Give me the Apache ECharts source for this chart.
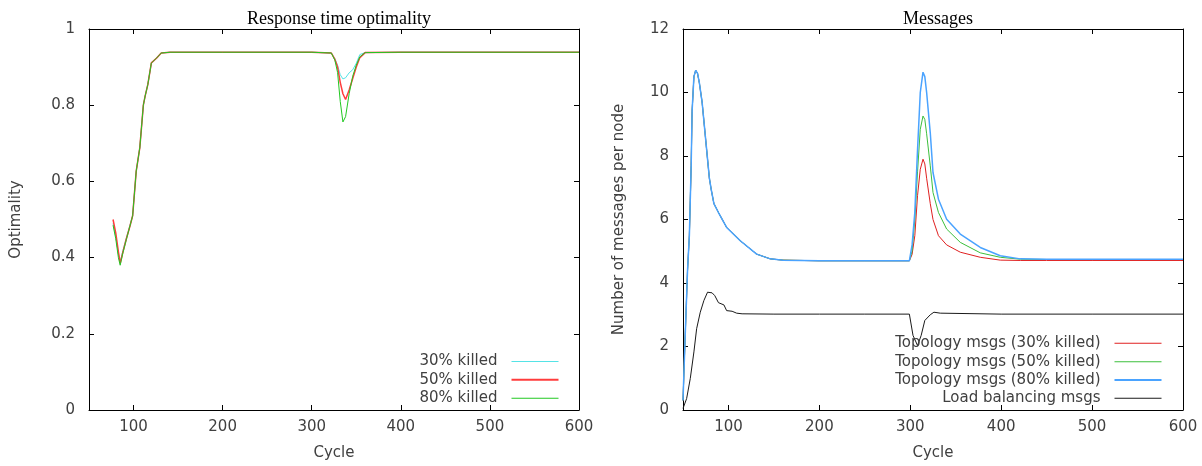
<!DOCTYPE html>
<html>
<head>
<meta charset="utf-8">
<script src="https://cdn.jsdelivr.net/npm/echarts@6/dist/echarts.min.js"></script>
<style>
html,body{margin:0;padding:0;background:#fff;}
#c{width:1202px;height:466px;}
</style>
</head>
<body>
<div id="c"></div>
<script>
// ---------- data ----------
const xTickValues = [100, 200, 300, 400, 500, 600];

// Left chart: Response time optimality
const optCycles = [77, 80, 83, 85, 88, 92, 96, 99, 103, 107, 111, 113, 116, 120, 126, 131, 141, 200, 300, 322, 326, 329, 332, 335, 338, 342, 346, 350, 354, 360, 400, 500, 600];
const opt30 = [0.490, 0.455, 0.410, 0.388, 0.418, 0.452, 0.485, 0.510, 0.627, 0.688, 0.800, 0.824, 0.854, 0.911, 0.924, 0.937, 0.939, 0.939, 0.939, 0.937, 0.922, 0.905, 0.880, 0.869, 0.872, 0.885, 0.893, 0.910, 0.933, 0.938, 0.939, 0.939, 0.939];
const opt50 = [0.500, 0.465, 0.415, 0.385, 0.414, 0.450, 0.483, 0.510, 0.627, 0.688, 0.800, 0.824, 0.854, 0.911, 0.924, 0.937, 0.939, 0.939, 0.939, 0.937, 0.920, 0.900, 0.860, 0.830, 0.815, 0.840, 0.870, 0.900, 0.925, 0.938, 0.939, 0.939, 0.939];
const opt80 = [0.485, 0.450, 0.400, 0.380, 0.412, 0.448, 0.483, 0.510, 0.627, 0.688, 0.800, 0.824, 0.854, 0.911, 0.924, 0.937, 0.939, 0.939, 0.939, 0.937, 0.918, 0.886, 0.810, 0.756, 0.770, 0.830, 0.876, 0.905, 0.927, 0.938, 0.939, 0.939, 0.939];

// Right chart: Messages
const topoCycles = [50, 52, 54, 55, 57, 58, 59, 60, 62, 64, 66, 68, 71, 73, 75, 77, 79, 81, 84, 89, 98, 113, 131, 146, 160, 200, 250, 299, 302, 305, 308, 311, 314, 316, 318, 322, 325, 331, 340, 355, 377, 399, 421, 450, 500, 600];
const topo30 = [0.3, 2.0, 3.6, 4.4, 5.5, 6.6, 7.7, 9.4, 10.5, 10.7, 10.6, 10.3, 9.7, 9.1, 8.5, 7.9, 7.3, 6.95, 6.5, 6.22, 5.75, 5.33, 4.91, 4.76, 4.72, 4.70, 4.70, 4.70, 4.90, 5.49, 6.75, 7.58, 7.90, 7.75, 7.30, 6.50, 6.00, 5.49, 5.20, 4.97, 4.81, 4.72, 4.71, 4.71, 4.71, 4.71];
const topo50 = [0.3, 2.0, 3.6, 4.4, 5.5, 6.6, 7.7, 9.4, 10.5, 10.7, 10.6, 10.3, 9.7, 9.1, 8.5, 7.9, 7.3, 6.95, 6.5, 6.22, 5.75, 5.33, 4.91, 4.76, 4.72, 4.70, 4.70, 4.70, 5.00, 6.00, 7.50, 8.84, 9.26, 9.15, 8.70, 7.69, 6.85, 6.22, 5.70, 5.28, 4.95, 4.81, 4.75, 4.74, 4.74, 4.74];
const topo80 = [0.3, 2.0, 3.6, 4.4, 5.5, 6.6, 7.7, 9.4, 10.5, 10.7, 10.6, 10.3, 9.7, 9.1, 8.5, 7.9, 7.3, 6.95, 6.5, 6.22, 5.75, 5.33, 4.91, 4.76, 4.72, 4.70, 4.70, 4.70, 5.20, 6.23, 8.20, 10.00, 10.64, 10.50, 10.00, 8.73, 7.48, 6.64, 6.01, 5.54, 5.12, 4.86, 4.76, 4.75, 4.75, 4.75];

const lbCycles = [50, 54, 58, 62, 65, 69, 73, 77, 82, 85, 89, 95, 98, 104, 109, 115, 150, 200, 250, 299, 303, 308, 312, 316, 322, 326, 333, 400, 500, 600];
const lbValues = [0.05, 0.36, 0.99, 1.83, 2.56, 3.08, 3.45, 3.71, 3.69, 3.60, 3.38, 3.31, 3.13, 3.11, 3.05, 3.03, 3.02, 3.02, 3.02, 3.02, 2.35, 2.03, 2.35, 2.82, 3.00, 3.08, 3.05, 3.02, 3.02, 3.02];

const leftNames = ['30% killed', '50% killed', '80% killed'];
const rightNames = ['Topology msgs (30% killed)', 'Topology msgs (50% killed)', 'Topology msgs (80% killed)', 'Load balancing msgs'];

// ---------- styling ----------
const FONT = 'DejaVu Sans';
const TXT = '#404040';
const leftColors = ['#55e3e6', '#ff3c3c', '#22c822'];
const rightColors = ['#e02020', '#3cbf3c', '#4aa3ff', '#1a1a1a'];

function zip(xs, ys) { return xs.map((x, i) => [x, ys[i]]); }

function xAxisBase(gridIndex, pos, labels) {
  return {
    type: 'value', gridIndex, position: pos, min: 50, max: 600,
    axisLine: { show: true, onZero: false, lineStyle: { color: '#000', width: 1 } },
    axisTick: { show: true, inside: true, length: 5, customValues: xTickValues, lineStyle: { color: '#000' } },
    axisLabel: { show: labels, customValues: xTickValues, color: TXT, fontFamily: FONT, fontSize: 15, margin: 10 },
    splitLine: { show: false },
    name: labels ? 'Cycle' : '', nameLocation: 'middle', nameGap: 36,
    nameTextStyle: { color: TXT, fontFamily: FONT, fontSize: 15 }
  };
}
function yAxisBase(gridIndex, pos, labels, max, interval, name, nameGap) {
  return {
    type: 'value', gridIndex, position: pos, min: 0, max, interval,
    axisLine: { show: true, onZero: false, lineStyle: { color: '#000', width: 1 } },
    axisTick: { show: true, inside: true, length: 5, lineStyle: { color: '#000' } },
    axisLabel: { show: labels, color: TXT, fontFamily: FONT, fontSize: 15, margin: 14 },
    splitLine: { show: false },
    name: labels ? name : '', nameLocation: 'middle', nameGap, nameRotate: 90,
    nameTextStyle: { color: TXT, fontFamily: FONT, fontSize: 15 }
  };
}

function lineSeries(name, xs, ys, axisIdx, color, width) {
  return {
    name, type: 'line', xAxisIndex: axisIdx, yAxisIndex: axisIdx,
    data: zip(xs, ys), symbol: 'none', showSymbol: false, smooth: false,
    lineStyle: { color, width }, itemStyle: { color }, animation: false, silent: true
  };
}

function legendItem(name, right, top, thickness) {
  return {
    data: [{ name, icon: 'rect' }], orient: 'vertical', right, top, padding: 0,
    align: 'right', itemWidth: 47, itemHeight: thickness, selectedMode: false,
    textStyle: { color: TXT, fontFamily: FONT, fontSize: 15, lineHeight: 18, padding: [0, 9, 0, 0] }
  };
}

const leftSeriesData = [opt30, opt50, opt80];
const leftWidths = [1, 1.5, 1];
const rightSeriesData = [topo30, topo50, topo80];
const rightWidths = [1, 1, 1.5];

const series = [];
leftNames.forEach((n, i) => series.push(lineSeries(n, optCycles, leftSeriesData[i], 0, leftColors[i], leftWidths[i])));
rightNames.slice(0, 3).forEach((n, i) => series.push(lineSeries(n, topoCycles, rightSeriesData[i], 2, rightColors[i], rightWidths[i])));
series.push(lineSeries(rightNames[3], lbCycles, lbValues, 2, rightColors[3], 1));

const leftLegendTops = [352.5, 370.7, 389.3];
const rightLegendTops = [334.3, 352.7, 371, 389.3];
const legends = [];
leftNames.forEach((n, i) => legends.push(legendItem(n, 643.5, leftLegendTops[i], i === 1 ? 2 : 1)));
rightNames.forEach((n, i) => legends.push(legendItem(n, 40.5, rightLegendTops[i], i === 2 ? 2 : 1)));

const TITLE_STYLE = { fontFamily: 'Liberation Serif', fontSize: 18, fontWeight: 'normal', color: '#000' };

const option = {
  backgroundColor: '#fff',
  animation: false,
  title: [
    { text: 'Response time optimality', left: 334, top: 5, textAlign: 'center', textStyle: TITLE_STYLE },
    { text: 'Messages', left: 933, top: 5, textAlign: 'center', textStyle: TITLE_STYLE }
  ],
  grid: [
    { left: 89, top: 29, width: 490, height: 382, containLabel: false },
    { left: 683, top: 29, width: 500, height: 382, containLabel: false }
  ],
  xAxis: [
    xAxisBase(0, 'bottom', true),
    xAxisBase(0, 'top', false),
    xAxisBase(1, 'bottom', true),
    xAxisBase(1, 'top', false)
  ],
  yAxis: [
    yAxisBase(0, 'left', true, 1, 0.2, 'Optimality', 65),
    yAxisBase(0, 'right', false, 1, 0.2, '', 10),
    yAxisBase(1, 'left', true, 12, 2, 'Number of messages per node', 56),
    yAxisBase(1, 'right', false, 12, 2, '', 10)
  ],
  legend: legends,
  series
};

const chart = echarts.init(document.getElementById('c'), null, { renderer: 'canvas' });
chart.setOption(option);
</script>
</body>
</html>
